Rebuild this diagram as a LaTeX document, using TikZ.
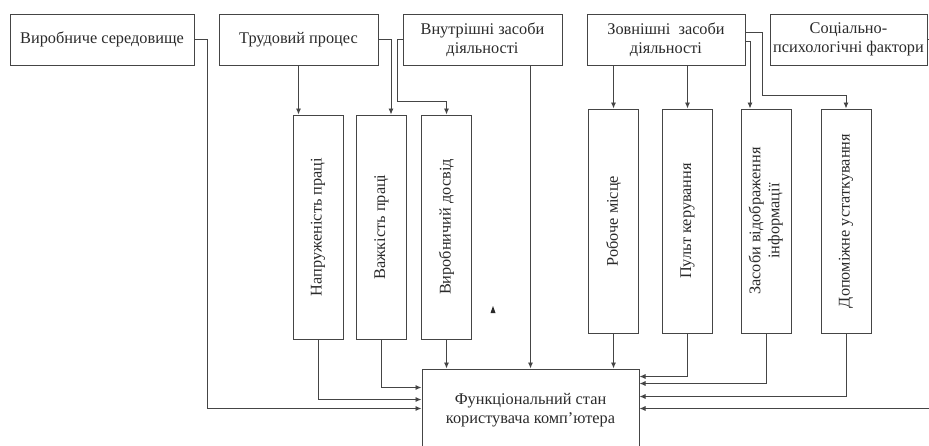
\documentclass[tikz,border=0pt]{standalone}
\usepackage{fontspec}
\setmainfont{Liberation Serif}
\usetikzlibrary{arrows.meta,calc}
\definecolor{ln}{HTML}{454545}
\definecolor{tx}{HTML}{2A2A2A}
\tikzset{
  box/.style={draw=ln,line width=1pt,fill=white,inner sep=2pt,text=tx,align=center,font=\fontsize{16.3}{19}\selectfont},
  topbox/.style={box,minimum height=51pt},
  vbox/.style={box,minimum width=50pt,minimum height=224pt},
  arr/.style={draw=ln,line width=0.9pt,-{Latex[length=6pt,width=5pt]}},
}
\begin{document}
\begin{tikzpicture}[x=1pt,y=-1pt]
\clip (0,0) rectangle (929,445);
\fill[white] (0,0) rectangle (929,445);
% top row
\node[topbox,minimum width=184pt] (vs) at (102,39.5) {Виробниче середовище};
\node[topbox,minimum width=159pt] (tp) at (298.5,39.5) {Трудовий процес};
\node[topbox,minimum width=159pt] (vz) at (482.5,39.5) {Внутрішні засоби\\діяльності};
\node[topbox,minimum width=158pt] (zz) at (666,39.5) {Зовнішні\ \ засоби\\діяльності};
\node[topbox,minimum width=157pt] (sp) at (848.5,39.5) {Соціально-\\психологічні фактори};
% vertical boxes
\node[vbox] (np) at (318,227) {\rotatebox{90}{Напруженість праці}};
\node[vbox] (vp) at (381.5,227) {\rotatebox{90}{Важкість праці}};
\node[vbox] (vd) at (446.5,227) {\rotatebox{90}{Виробничий досвід}};
\node[vbox] (rm) at (613.5,221) {\rotatebox{90}{Робоче місце}};
\node[vbox] (pk) at (687.5,221) {\rotatebox{90}{Пульт керування}};
\node[vbox] (zv) at (766,221) {\rotatebox{90}{\begin{tabular}{@{}c@{}}Засоби відображення\\інформації\end{tabular}}};
\node[vbox] (du) at (846,221) {\rotatebox{90}{Допоміжне устаткування}};
% functional state
\node[box,minimum width=217pt,minimum height=82pt] (f) at (530.5,410) {Функціональний стан\\користувача комп'ютера};
% connectors from top row
\draw[arr] (vs.east) -- ++(13,0) |- ($(f.north west)+(0,40)$);
\draw[arr] (tp.south) -- (tp.south |- np.north);
\draw[arr] (tp.east) -| ($(vp.north)+(9.5,0)$);
\draw[arr] (vz.west) -- ++(-5,0) |- ($(vd.north)+(0,-13)$) -- (vd.north);
\draw[arr] (vz.south -| f.north) -- (f.north);
\draw[arr] (rm.north |- zz.south) -- (rm.north);
\draw[arr] (pk.north |- zz.south) -- (pk.north);
\draw[arr] ($(zz.east)+(0,2)$) -| ($(zv.north)+(-16,0)$);
\draw[arr] ($(zz.east)+(0,-7)$) -- ++(17,0) |- ($(du.north)+(0,-13)$) -- (du.north);
\draw[arr] (sp.east) -- ++(12,0) |- ($(f.north east)+(0,40)$);
% connectors into functional state
\draw[arr] (np.south) |- ($(f.north west)+(0,31)$);
\draw[arr] (vp.south) |- ($(f.north west)+(0,19)$);
\draw[arr] (vd.south) -- (vd.south |- f.north);
\draw[arr] (rm.south) -- (rm.south |- f.north);
\draw[arr] (pk.south) |- ($(f.north east)+(0,8)$);
\draw[arr] (zv.south) |- ($(f.north east)+(0,15)$);
\draw[arr] (du.south) |- ($(f.north east)+(0,28)$);
% stray mark
\fill[tx] (490.5,313) -- (493,306) -- (495.5,313) -- cycle;
\end{tikzpicture}
\end{document}
